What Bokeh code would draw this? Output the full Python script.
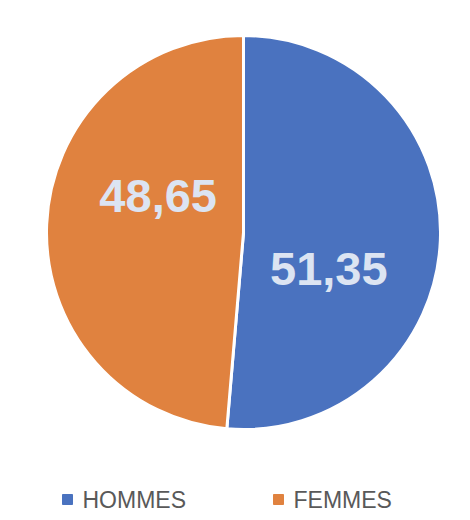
import math
from bokeh.plotting import figure
from bokeh.models import ColumnDataSource, Range1d
from bokeh.core.properties import value
from bokeh.embed import file_html
from bokeh.resources import INLINE

categories = ["HOMMES", "FEMMES"]
values = [51.35, 48.65]
value_labels = ["51,35", "48,65"]
colors = ["#4A72BF", "#E0823F"]

W, H = 462, 512
p = figure(width=W, height=H, output_backend="svg", toolbar_location=None,
           x_range=Range1d(0, W), y_range=Range1d(0, H), min_border=0)
p.axis.visible = False
p.grid.visible = False
p.outline_line_color = None
p.background_fill_color = "white"

cx, cy, r = 243, H - 232, 197
total = sum(values)
starts, ends, lx, ly = [], [], [], []
a = math.pi / 2
for v in values:
    span = 2 * math.pi * v / total
    starts.append(a - span)
    ends.append(a)
    mid = a - span / 2 - math.radians(21)
    lx.append(cx + 93 * math.cos(mid))
    ly.append(cy + 93 * math.sin(mid))
    a -= span

src = ColumnDataSource(dict(start=starts, end=ends, color=colors,
                            lx=lx, ly=ly, lab=value_labels, cat=categories))
p.wedge(x=cx, y=cy, radius=r, start_angle="start", end_angle="end",
        fill_color="color", line_color="white", line_width=3, source=src)
p.text(x="lx", y="ly", text="lab", source=src, text_align="center",
       text_baseline="middle", text_font=value("Liberation Sans"),
       text_font_style="bold", text_font_size="47px", text_color="#DCE4F2")

# legend
leg_y = H - 499
sq_x = [67, 278]
txt_x = [82, 293]
p.scatter(x=sq_x, y=[leg_y] * 2, marker="square", size=10, color=colors)
p.text(x=txt_x, y=[leg_y] * 2, text=categories, text_align="left",
       text_baseline="middle", text_font=value("Liberation Sans"),
       text_font_size="23px", text_color="#595959")

open("out.html", "w").write(file_html(p, INLINE))
